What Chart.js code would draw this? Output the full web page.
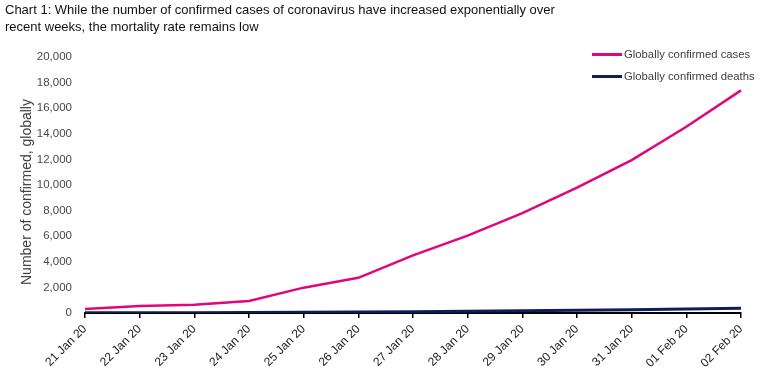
<!DOCTYPE html>
<html lang="en">
<head>
    <meta charset="UTF-8">
    <title>Confirmed coronavirus cases and deaths</title>
    <script src="https://cdn.jsdelivr.net/npm/chart.js"></script>
    <style>
        body { margin: 0; background: #fff; }
        #wrap { position: relative; width: 767px; height: 378px; font-family: "Liberation Sans", Arial, sans-serif; }
        #title { position: absolute; left: 5px; top: 1px; font-size: 13px; line-height: 17px; color: #111; }
        #ytitle { position: absolute; left: 26px; top: 192px; transform: translate(-50%, -50%) rotate(-90deg);
                  white-space: nowrap; font-size: 14px; color: #404040; }
        .legend { position: absolute; left: 592px; font-size: 11.3px; color: #404040; display: flex; align-items: center; }
        .legend span.swatch { display: inline-block; width: 30px; margin-right: 2px; }
    </style>
</head>
<body>
    <div id="wrap">
        <canvas id="covidChart" width="767" height="378"></canvas>
        <div id="title">Chart 1: While the number of confirmed cases of coronavirus have increased exponentially over<br>recent weeks, the mortality rate remains low</div>
        <div id="ytitle">Number of confirmed, globally</div>
        <div class="legend" style="top: 48px;"><span class="swatch" style="border-top: 3px solid #e0067f;"></span>Globally confirmed cases</div>
        <div class="legend" style="top: 70px;"><span class="swatch" style="border-top: 3px solid #0b1f5c;"></span>Globally confirmed deaths</div>
    </div>
    <script>
        // values
        const dates = ['21 Jan 20', '22 Jan 20', '23 Jan 20', '24 Jan 20', '25 Jan 20', '26 Jan 20', '27 Jan 20',
                       '28 Jan 20', '29 Jan 20', '30 Jan 20', '31 Jan 20', '01 Feb 20', '02 Feb 20'];
        const cases = [310, 550, 650, 940, 1980, 2750, 4500, 6050, 7800, 9800, 11950, 14550, 17390];
        const deaths = [17, 18, 26, 41, 56, 80, 106, 132, 170, 213, 259, 304, 362];

        const ctx = document.getElementById('covidChart').getContext('2d');
        new Chart(ctx, {
            type: 'line',
            data: {
                labels: dates,
                datasets: [
                    {
                        label: 'Globally confirmed cases',
                        data: cases,
                        borderColor: '#e0067f',
                        borderWidth: 2.5,
                        pointRadius: 0,
                        tension: 0
                    },
                    {
                        label: 'Globally confirmed deaths',
                        data: deaths,
                        borderColor: '#0b1f5c',
                        borderWidth: 3,
                        pointRadius: 0,
                        tension: 0
                    }
                ]
            },
            options: {
                responsive: false,
                animation: false,
                layout: { padding: { top: 57, right: 26, left: 0, bottom: 0 } },
                plugins: {
                    legend: { display: false },
                    tooltip: { enabled: false }
                },
                scales: {
                    x: {
                        offset: false,
                        grid: { display: true, drawOnChartArea: false, drawTicks: true, tickLength: 5, color: '#000', lineWidth: 1.5 },
                        border: { display: true, color: '#000', width: 2 },
                        ticks: {
                            minRotation: 45, maxRotation: 45, autoSkip: false,
                            color: '#222', padding: 4,
                            font: { family: 'Liberation Sans', size: 12 }
                        },
                        afterFit: (scale) => { scale.height = 65; }
                    },
                    y: {
                        min: 0, max: 20000,
                        grid: { display: false },
                        border: { display: false },
                        ticks: {
                            stepSize: 2000,
                            color: '#4a4a4a', padding: 5,
                            font: { family: 'Liberation Sans', size: 11.5 }
                        },
                        afterFit: (scale) => { scale.width = 85; }
                    }
                }
            }
        });
    </script>
</body>
</html>
